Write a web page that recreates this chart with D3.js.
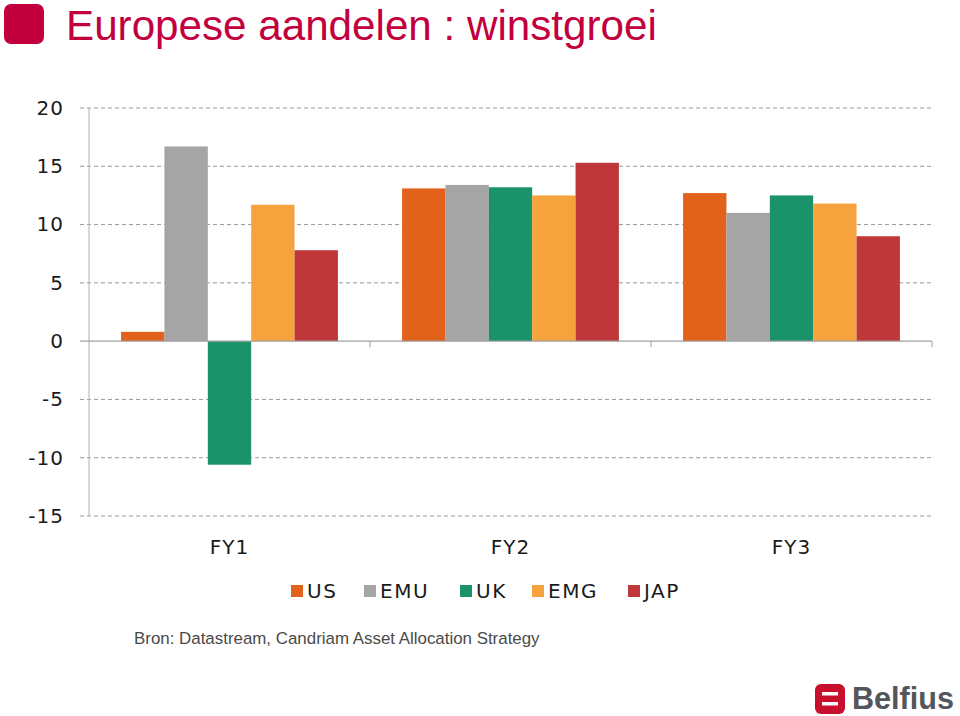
<!DOCTYPE html>
<html><head><meta charset="utf-8">
<script src="https://cdn.jsdelivr.net/npm/d3@7"></script>
<style>body{margin:0;background:#fff}svg{display:block}</style>
</head><body>
<svg id="c" width="960" height="716"></svg>
<script>
const categories = ["FY1", "FY2", "FY3"];
const series = ["US", "EMU", "UK", "EMG", "JAP"];
const US  = [0.8, 13.1, 12.7];
const EMU = [16.7, 13.4, 11.0];
const UK  = [-10.6, 13.2, 12.5];
const EMG = [11.7, 12.5, 11.8];
const JAP = [7.8, 15.3, 9.0];
const yTicks = [20, 15, 10, 5, 0, -5, -10, -15];
const colors = ["#e2611b", "#a5a5a5", "#1a936b", "#f6a33e", "#c0373a"];
const values = {US, EMU, UK, EMG, JAP};

const svg = d3.select("#c");
const labFont = "DejaVu Sans, Verdana, sans-serif";

// Title
svg.append("rect").attr("x",4).attr("y",4).attr("width",40).attr("height",40).attr("rx",7).attr("fill","#c2003e");
const title = svg.append("text").attr("x",66).attr("y",40)
  .attr("font-family","Liberation Sans, Arial, sans-serif").attr("font-size",40).attr("fill","#c2003e")
  .text("Europese aandelen : winstgroei");
const tw = title.node().getComputedTextLength();
title.attr("font-size", 40*591/tw);

const x0 = d3.scaleBand().domain(categories).range([89, 932]).paddingInner(0).paddingOuter(0);
const x1 = d3.scaleBand().domain(series).range([0, x0.bandwidth()]).paddingInner(0).paddingOuter(0.74);
const y = d3.scaleLinear().domain([-15, 20]).range([516, 108]);

// gridlines
const g = svg.append("g");
g.selectAll("line.grid").data(yTicks.filter(d=>d!==0)).join("line")
  .attr("x1",80).attr("x2",932).attr("y1",d=>y(d)).attr("y2",d=>y(d))
  .attr("stroke","#999").attr("stroke-width",1).attr("stroke-dasharray","4,3");

// y axis
const yAxis = d3.axisLeft(y).tickValues(yTicks).tickSize(0).tickPadding(25).tickFormat(d => String(d));
const ya = svg.append("g").attr("transform","translate(89,0)").call(yAxis);
ya.select(".domain").remove();
ya.selectAll("text").attr("font-family",labFont).attr("font-size",20).attr("letter-spacing",1).attr("fill","#1a1a1a");
svg.append("line").attr("x1",89).attr("x2",89).attr("y1",y(20)).attr("y2",y(-15)).attr("stroke","#b0b0b0");

// bars
const bars = svg.append("g");
categories.forEach((c,i)=>{
  series.forEach((s,j)=>{
    const v = values[s][i];
    bars.append("rect")
      .attr("x", x0(c)+x1(s)).attr("width", x1.bandwidth())
      .attr("y", y(Math.max(0,v))).attr("height", Math.abs(y(v)-y(0)))
      .attr("fill", colors[j]);
  });
});

// zero line and category ticks
svg.append("line").attr("x1",80).attr("x2",932).attr("y1",y(0)).attr("y2",y(0)).attr("stroke","#a0a0a0").attr("stroke-width",1.2);
const tickXs = [x0(categories[1]), x0(categories[2]), x0.range()[1]];
svg.append("g").selectAll("line").data(tickXs).join("line")
  .attr("x1",d=>d).attr("x2",d=>d).attr("y1",y(0)).attr("y2",y(0)+6).attr("stroke","#a0a0a0");
const xAxis = d3.axisBottom(x0).tickSize(0).tickPadding(0);
const xl = svg.append("g").attr("transform","translate(0,516)").call(xAxis);
xl.select(".domain").remove();
xl.selectAll("text").attr("dy",0).attr("y",38).attr("font-family",labFont).attr("font-size",20).attr("letter-spacing",1).attr("fill","#1a1a1a");

// legend
const legX = [291, 364, 460, 532, 628];
const lg = svg.append("g");
series.forEach((s,j)=>{
  lg.append("rect").attr("x",legX[j]).attr("y",585).attr("width",12).attr("height",12).attr("fill",colors[j]);
  lg.append("text").attr("x",legX[j]+16).attr("y",598).attr("font-family",labFont)
    .attr("font-size",20).attr("fill","#1a1a1a").attr("letter-spacing",1.5).text(s);
});

// source
const src = svg.append("text").attr("x",134).attr("y",644).attr("font-family","Liberation Sans, Arial, sans-serif")
  .attr("font-size",16.5).attr("fill","#4a4a4a").text("Bron: Datastream, Candriam Asset Allocation Strategy");
const sw = src.node().getComputedTextLength();
src.attr("font-size", 16.5*406/sw);

// logo
svg.append("rect").attr("x",815).attr("y",684).attr("width",30).attr("height",30).attr("rx",6).attr("fill","#c8102e");
[692,702].forEach(yy=>svg.append("rect").attr("x",822).attr("y",yy).attr("width",16).attr("height",3.5).attr("fill","#fff"));
const logo = svg.append("text").attr("x",852).attr("y",709).attr("font-family","Liberation Sans, Arial, sans-serif")
  .attr("font-weight","bold").attr("font-size",34).attr("fill","#53565a").text("Belfius");
const lw = logo.node().getComputedTextLength();
logo.attr("font-size", 34*102/lw);
</script>
</body></html>
